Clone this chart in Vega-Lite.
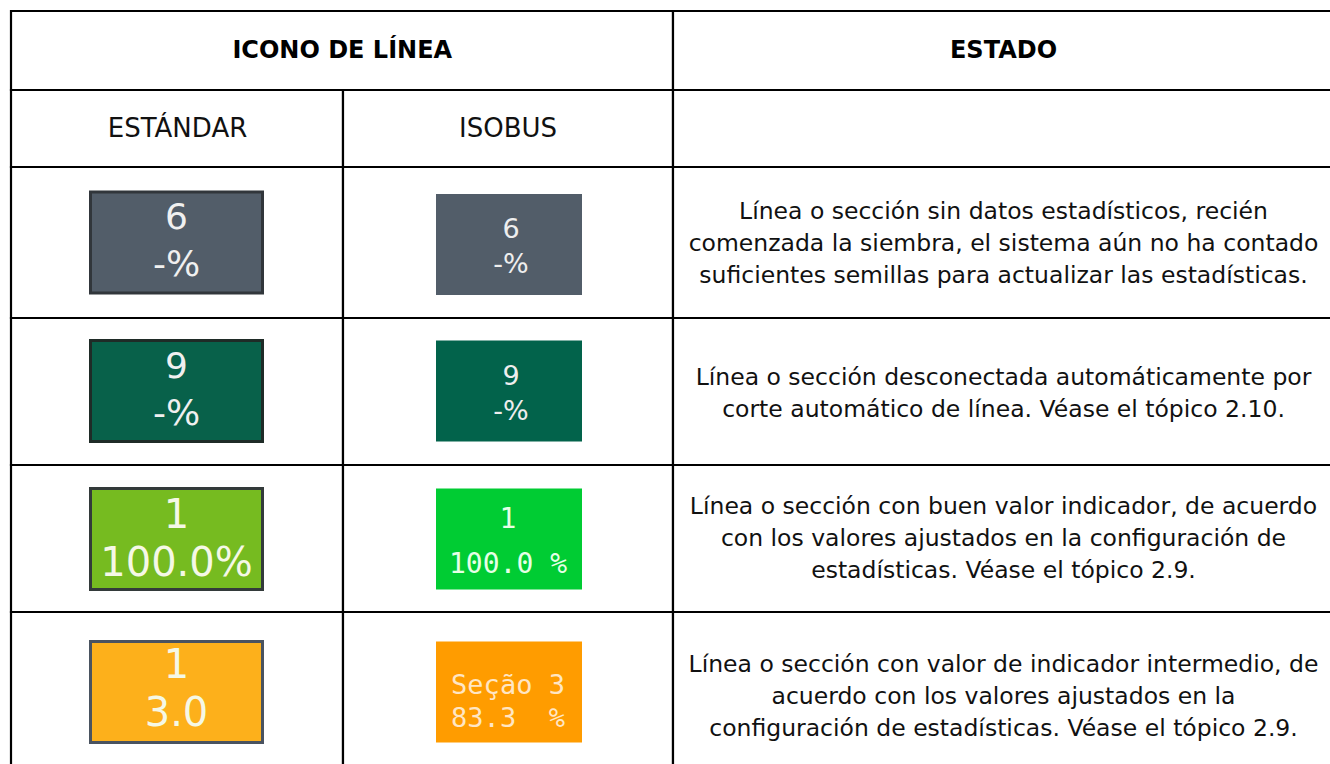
{
  "$schema": "https://vega.github.io/schema/vega-lite/v6.json",
  "width": 1330,
  "height": 764,
  "padding": 0,
  "autosize": {"type": "none"},
  "background": "white",
  "config": {"view": {"stroke": null}},
  "datasets": {
    "celdas": [
      {"c0": 0, "c1": 2, "r0": 0, "r1": 1},
      {"c0": 2, "c1": 3, "r0": 0, "r1": 1},
      {"c0": 0, "c1": 1, "r0": 1, "r1": 2},
      {"c0": 1, "c1": 2, "r0": 1, "r1": 2},
      {"c0": 2, "c1": 3, "r0": 1, "r1": 2},
      {"c0": 0, "c1": 1, "r0": 2, "r1": 3},
      {"c0": 1, "c1": 2, "r0": 2, "r1": 3},
      {"c0": 2, "c1": 3, "r0": 2, "r1": 3},
      {"c0": 0, "c1": 1, "r0": 3, "r1": 4},
      {"c0": 1, "c1": 2, "r0": 3, "r1": 4},
      {"c0": 2, "c1": 3, "r0": 3, "r1": 4},
      {"c0": 0, "c1": 1, "r0": 4, "r1": 5},
      {"c0": 1, "c1": 2, "r0": 4, "r1": 5},
      {"c0": 2, "c1": 3, "r0": 4, "r1": 5},
      {"c0": 0, "c1": 1, "r0": 5, "r1": 6},
      {"c0": 1, "c1": 2, "r0": 5, "r1": 6},
      {"c0": 2, "c1": 3, "r0": 5, "r1": 6}
    ],
    "encabezados": [
      {"texto": "ICONO DE LÍNEA", "columna": 0.5, "fila": 0, "nivel": "titulo"},
      {"texto": "ESTADO", "columna": 2, "fila": 0, "nivel": "titulo"},
      {"texto": "ESTÁNDAR", "columna": 0, "fila": 1, "nivel": "subtitulo"},
      {"texto": "ISOBUS", "columna": 1, "fila": 1, "nivel": "subtitulo"}
    ],
    "estados": [
      {"fila": 2, "estado": "sin_datos", "estandar": "6\n-%", "isobus": "6\n-%",
       "descripcion": "Línea o sección sin datos estadísticos, recién\ncomenzada la siembra, el sistema aún no ha contado\nsuficientes semillas para actualizar las estadísticas."},
      {"fila": 3, "estado": "desconectada", "estandar": "9\n-%", "isobus": "9\n-%",
       "descripcion": "Línea o sección desconectada automáticamente por\ncorte automático de línea. Véase el tópico 2.10."},
      {"fila": 4, "estado": "bueno", "estandar": "1\n100.0%", "isobus": "1\n100.0 %",
       "descripcion": "Línea o sección con buen valor indicador, de acuerdo\ncon los valores ajustados en la configuración de\nestadísticas. Véase el tópico 2.9."},
      {"fila": 5, "estado": "intermedio", "estandar": "1\n3.0", "isobus": "Seção 3\n83.3\u00a0\u00a0%",
       "descripcion": "Línea o sección con valor de indicador intermedio, de\nacuerdo con los valores ajustados en la\nconfiguración de estadísticas. Véase el tópico 2.9."}
    ]
  },
  "layer": [
    {
      "data": {"name": "celdas"},
      "mark": {"type": "rect", "fill": "white", "stroke": "#000000", "strokeWidth": 2.2},
      "encoding": {
        "x": {"field": "c0", "type": "quantitative", "axis": null,
              "scale": {"domain": [0, 1, 2, 3], "range": [11, 343, 673, 1340], "nice": false, "zero": false}},
        "x2": {"field": "c1"},
        "y": {"field": "r0", "type": "quantitative", "axis": null,
              "scale": {"domain": [0, 1, 2, 3, 4, 5, 6], "range": [11, 90, 167, 318, 465, 612, 790], "nice": false, "zero": false}},
        "y2": {"field": "r1"}
      }
    },
    {
      "data": {"name": "encabezados"},
      "transform": [{"filter": "datum.nivel === 'titulo'"}],
      "mark": {"type": "text", "font": "DejaVu Sans", "fontSize": 24, "fontWeight": "bold", "color": "#000000", "align": "center", "baseline": "middle"},
      "encoding": {
        "x": {"field": "columna", "type": "quantitative", "axis": null,
              "scale": {"domain": [0, 1, 2], "range": [176.5, 508, 1003.5], "nice": false, "zero": false}},
        "y": {"field": "fila", "type": "quantitative", "axis": null,
              "scale": {"domain": [0, 1, 2, 3, 4, 5], "range": [51, 129, 242.5, 391.5, 538.5, 694], "nice": false, "zero": false}},
        "text": {"field": "texto"}
      }
    },
    {
      "data": {"name": "encabezados"},
      "transform": [{"filter": "datum.nivel === 'subtitulo'"}],
      "mark": {"type": "text", "font": "DejaVu Sans", "fontSize": 26, "color": "#111111", "align": "center", "baseline": "middle"},
      "encoding": {
        "x": {"field": "columna", "type": "quantitative", "axis": null,
              "scale": {"domain": [0, 1, 2], "range": [177.5, 508, 1003.5], "nice": false, "zero": false}},
        "y": {"field": "fila", "type": "quantitative", "axis": null,
              "scale": {"domain": [0, 1, 2, 3, 4, 5], "range": [51, 129, 242.5, 391.5, 538.5, 694], "nice": false, "zero": false}},
        "text": {"field": "texto"}
      }
    },
    {
      "data": {"name": "estados"},
      "mark": {"type": "text", "font": "DejaVu Sans", "fontSize": 23.5, "lineBreak": "\n", "lineHeight": 32, "color": "#111111", "align": "center", "baseline": "middle"},
      "encoding": {
        "x": {"datum": 2, "type": "quantitative", "axis": null,
              "scale": {"domain": [0, 1, 2], "range": [176.5, 508, 1003.5], "nice": false, "zero": false}},
        "y": {"field": "fila", "type": "quantitative", "axis": null,
              "scale": {"domain": [0, 1, 2, 3, 4, 5], "range": [50, 128.5, 212, 377.5, 507, 665], "nice": false, "zero": false}},
        "text": {"field": "descripcion"}
      }
    },
    {
      "data": {"name": "estados"},
      "mark": {"type": "rect", "width": 172, "height": 101, "stroke": "#30363b", "strokeWidth": 3},
      "encoding": {
        "x": {"datum": 0, "type": "quantitative", "axis": null,
              "scale": {"domain": [0, 1, 2], "range": [176.5, 508, 1003.5], "nice": false, "zero": false}},
        "y": {"field": "fila", "type": "quantitative", "axis": null,
              "scale": {"domain": [0, 1, 2, 3, 4, 5], "range": [50, 128.5, 242.5, 391, 539, 692], "nice": false, "zero": false}},
        "fill": {"field": "estado", "type": "nominal", "legend": null,
                 "scale": {"domain": ["sin_datos", "desconectada", "bueno", "intermedio"], "range": ["#525d69", "#08614a", "#76bb20", "#fdb01b"]}},
        "stroke": {"field": "estado", "type": "nominal", "legend": null,
                 "scale": {"domain": ["sin_datos", "desconectada", "bueno", "intermedio"], "range": ["#31363b", "#1f2b27", "#333a3a", "#4a5360"]}}
      }
    },
    {
      "data": {"name": "estados"},
      "mark": {"type": "rect", "width": 146, "height": 101},
      "encoding": {
        "x": {"datum": 1, "type": "quantitative", "axis": null,
              "scale": {"domain": [0, 1, 2], "range": [176.5, 509, 1003.5], "nice": false, "zero": false}},
        "y": {"field": "fila", "type": "quantitative", "axis": null,
              "scale": {"domain": [0, 1, 2, 3, 4, 5], "range": [50, 128.5, 244.5, 391, 539, 692], "nice": false, "zero": false}},
        "fill": {"field": "estado", "type": "nominal", "legend": null,
                 "scale": {"domain": ["sin_datos", "desconectada", "bueno", "intermedio"], "range": ["#525d69", "#02634b", "#00cc33", "#ff9c00"]}}
      }
    },
    {
      "data": {"name": "estados"},
      "transform": [{"filter": "datum.fila <= 3"}],
      "mark": {"type": "text", "font": "DejaVu Sans", "fontSize": 36, "lineBreak": "\n", "lineHeight": 47, "color": "#f0f0f0", "align": "center", "baseline": "middle"},
      "encoding": {
        "x": {"datum": 0, "type": "quantitative", "axis": null,
              "scale": {"domain": [0, 1, 2], "range": [176.5, 508, 1003.5], "nice": false, "zero": false}},
        "y": {"field": "fila", "type": "quantitative", "axis": null,
              "scale": {"domain": [0, 1, 2, 3, 4, 5], "range": [50, 128.5, 218, 367, 538.5, 692], "nice": false, "zero": false}},
        "text": {"field": "estandar"}
      }
    },
    {
      "data": {"name": "estados"},
      "transform": [{"filter": "datum.fila >= 4"}],
      "mark": {"type": "text", "font": "DejaVu Sans", "fontSize": 40, "lineBreak": "\n", "lineHeight": 48, "color": "#f5f8e6", "align": "center", "baseline": "middle"},
      "encoding": {
        "x": {"datum": 0, "type": "quantitative", "axis": null,
              "scale": {"domain": [0, 1, 2], "range": [176.5, 508, 1003.5], "nice": false, "zero": false}},
        "y": {"field": "fila", "type": "quantitative", "axis": null,
              "scale": {"domain": [0, 1, 2, 3, 4, 5], "range": [50, 128.5, 242.5, 391.5, 516, 666], "nice": false, "zero": false}},
        "text": {"field": "estandar"}
      }
    },
    {
      "data": {"name": "estados"},
      "transform": [{"filter": "datum.fila <= 3"}],
      "mark": {"type": "text", "font": "DejaVu Sans", "fontSize": 27, "lineBreak": "\n", "lineHeight": 35, "color": "#eeeeee", "align": "center", "baseline": "middle"},
      "encoding": {
        "x": {"datum": 1, "type": "quantitative", "axis": null,
              "scale": {"domain": [0, 1, 2], "range": [176.5, 511, 1003.5], "nice": false, "zero": false}},
        "y": {"field": "fila", "type": "quantitative", "axis": null,
              "scale": {"domain": [0, 1, 2, 3, 4, 5], "range": [50, 128.5, 230, 377, 538.5, 692], "nice": false, "zero": false}},
        "text": {"field": "isobus"}
      }
    },
    {
      "data": {"name": "estados"},
      "transform": [{"filter": "datum.fila == 4"}],
      "mark": {"type": "text", "font": "DejaVu Sans Mono", "fontSize": 28, "lineBreak": "\n", "lineHeight": 45, "color": "#e6ffe6", "align": "center", "baseline": "middle"},
      "encoding": {
        "x": {"datum": 1, "type": "quantitative", "axis": null,
              "scale": {"domain": [0, 1, 2], "range": [176.5, 508, 1003.5], "nice": false, "zero": false}},
        "y": {"field": "fila", "type": "quantitative", "axis": null,
              "scale": {"domain": [0, 1, 2, 3, 4, 5], "range": [50, 128.5, 242.5, 391.5, 520, 692], "nice": false, "zero": false}},
        "text": {"field": "isobus"}
      }
    },
    {
      "data": {"name": "estados"},
      "transform": [{"filter": "datum.fila == 5"}],
      "mark": {"type": "text", "font": "DejaVu Sans Mono", "fontSize": 27, "lineBreak": "\n", "lineHeight": 33, "color": "#ffe6c4", "align": "center", "baseline": "middle"},
      "encoding": {
        "x": {"datum": 1, "type": "quantitative", "axis": null,
              "scale": {"domain": [0, 1, 2], "range": [176.5, 508, 1003.5], "nice": false, "zero": false}},
        "y": {"field": "fila", "type": "quantitative", "axis": null,
              "scale": {"domain": [0, 1, 2, 3, 4, 5], "range": [50, 128.5, 242.5, 391.5, 538.5, 686], "nice": false, "zero": false}},
        "text": {"field": "isobus"}
      }
    }
  ],
  "resolve": {"scale": {"x": "independent", "y": "independent", "fill": "independent", "stroke": "independent"}}
}
